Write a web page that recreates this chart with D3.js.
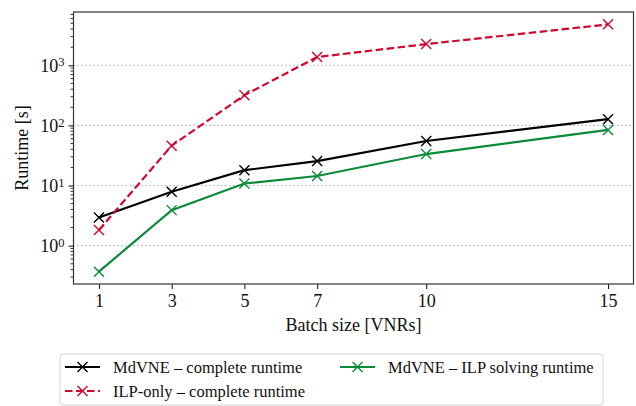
<!DOCTYPE html>
<html>
<head>
<meta charset="utf-8">
<script src="https://cdn.jsdelivr.net/npm/d3@7"></script>
<style>
  body { margin: 0; background: #fff; }
  svg { display: block; }
  .grid line { stroke: #999; stroke-width: 1.1; stroke-dasharray: 1.1 2.9; }
</style>
</head>
<body>
<div id="chart"></div>
<script>
// batch sizes (VNRs)
var batch = [1, 3, 5, 7, 10, 15];
// runtimes in seconds
var mdvneComplete = [2.95, 7.9, 18, 25.5, 55, 127];
var ilpComplete = [1.82, 46, 318, 1370, 2250, 4790];
var mdvneIlp = [0.37, 3.9, 10.8, 14.4, 33.4, 84];
var yTicks = [1, 10, 100, 1000];

var series = [
  {name: "MdVNE \u2013 complete runtime", values: mdvneComplete, color: "#000000", dash: null},
  {name: "ILP-only \u2013 complete runtime", values: ilpComplete, color: "#d0062f", dash: "7.5 3.5"},
  {name: "MdVNE \u2013 ILP solving runtime", values: mdvneIlp, color: "#0c8a3a", dash: null}
];

var FONT = "'Liberation Serif', 'DejaVu Serif', serif";
var W = 636, H = 406;
var margin = {left: 73.5, right: 2.5, top: 12, bottom: 122};
var width = W - margin.left - margin.right, height = H - margin.top - margin.bottom;

var svg = d3.select("#chart").append("svg").attr("width", W).attr("height", H)
  .style("font-family", FONT);
var g = svg.append("g").attr("transform", "translate(" + margin.left + "," + margin.top + ")");

// matplotlib-like 5% margins
var xe = d3.extent(batch), xpad = (xe[1] - xe[0]) * 0.05;
var x = d3.scaleLinear().domain([xe[0] - xpad, xe[1] + xpad]).range([0, width]);

var all = mdvneComplete.concat(ilpComplete, mdvneIlp).map(function(v){ return Math.log10(v); });
var le = d3.extent(all), lpad = (le[1] - le[0]) * 0.05;
var y = d3.scaleLog().domain([Math.pow(10, le[0] - lpad), Math.pow(10, le[1] + lpad)]).range([height, 0]);

// grid
g.append("g").attr("class", "grid")
  .selectAll("line").data(yTicks).enter().append("line")
  .attr("x1", 0).attr("x2", width)
  .attr("y1", function(d){ return y(d); }).attr("y2", function(d){ return y(d); });

// minor y ticks
var minor = y.ticks().filter(function(d){ return yTicks.indexOf(d) < 0; });
g.append("g").selectAll("line").data(minor).enter().append("line")
  .attr("x1", -3).attr("x2", 0)
  .attr("y1", function(d){ return y(d); }).attr("y2", function(d){ return y(d); })
  .attr("stroke", "#222").attr("stroke-width", 0.9);

// y axis
var yAxis = g.append("g")
  .call(d3.axisLeft(y).tickValues(yTicks).tickSize(5).tickPadding(4).tickFormat(""));
yAxis.select(".domain").remove();
yAxis.selectAll(".tick line").attr("stroke", "#222").attr("stroke-width", 1.1);
yAxis.selectAll(".tick text").remove();
yAxis.selectAll(".tick").append("text")
  .attr("x", -9).attr("dy", "0.35em").attr("text-anchor", "end")
  .attr("fill", "#111").style("font-family", FONT).style("font-size", "18px")
  .each(function(d){
    var t = d3.select(this);
    t.append("tspan").text("10");
    t.append("tspan").attr("dy", "-0.45em").style("font-size", "12.5px").text(Math.round(Math.log10(d)));
  });

// x axis
var xAxis = g.append("g").attr("transform", "translate(0," + height + ")")
  .call(d3.axisBottom(x).tickValues(batch).tickSize(5).tickPadding(5).tickFormat(d3.format("d")));
xAxis.select(".domain").remove();
xAxis.selectAll(".tick line").attr("stroke", "#222").attr("stroke-width", 1.1);
xAxis.selectAll(".tick text").attr("fill", "#111")
  .style("font-family", FONT).style("font-size", "18px");

// frame
g.append("rect").attr("width", width).attr("height", height)
  .attr("fill", "none").attr("stroke", "#333").attr("stroke-width", 1.2);

// lines
var line = d3.line()
  .x(function(d, i){ return x(batch[i]); })
  .y(function(d){ return y(d); });

function cross(sel, r) {
  return sel.attr("d", "M" + (-r) + "," + (-r) + "L" + r + "," + r + "M" + (-r) + "," + r + "L" + r + "," + (-r));
}

series.forEach(function(s){
  var sg = g.append("g");
  sg.append("path").datum(s.values)
    .attr("d", line).attr("fill", "none")
    .attr("stroke", s.color).attr("stroke-width", 2.2)
    .attr("stroke-dasharray", s.dash);
  sg.selectAll("path.m").data(s.values).enter().append("path").attr("class", "m")
    .attr("transform", function(d, i){ return "translate(" + x(batch[i]) + "," + y(d) + ")"; })
    .call(cross, 5)
    .attr("stroke", s.color).attr("stroke-width", 1.4).attr("fill", "none");
});

// axis labels
svg.append("text")
  .attr("x", margin.left + width / 2).attr("y", 331)
  .attr("text-anchor", "middle").attr("fill", "#111")
  .style("font-family", FONT).style("font-size", "18px")
  .text("Batch size [VNRs]");
svg.append("text")
  .attr("transform", "translate(28," + (margin.top + height / 2) + ") rotate(-90)")
  .attr("text-anchor", "middle").attr("fill", "#111")
  .style("font-family", FONT).style("font-size", "18px")
  .text("Runtime [s]");

// legend
var lg = svg.append("g");
lg.append("rect").attr("x", 60).attr("y", 354).attr("width", 543).attr("height", 51).attr("rx", 3)
  .attr("fill", "#fff").attr("stroke", "#d4d4d4").attr("stroke-width", 1);
var slots = [{x: 65, y: 367}, {x: 65, y: 391}, {x: 340, y: 367}];
series.forEach(function(s, i){
  var p = slots[i];
  var e = lg.append("g").attr("transform", "translate(" + p.x + "," + p.y + ")");
  e.append("line").attr("x1", 0).attr("x2", 35)
    .attr("stroke", s.color).attr("stroke-width", 2.2).attr("stroke-dasharray", s.dash);
  e.append("path").attr("transform", "translate(17.5,0)").call(cross, 5)
    .attr("stroke", s.color).attr("stroke-width", 1.4);
  e.append("text").attr("x", 48).attr("dy", "0.35em")
    .attr("fill", "#111").style("font-family", FONT).style("font-size", "16.5px").text(s.name);
});
</script>
</body>
</html>
